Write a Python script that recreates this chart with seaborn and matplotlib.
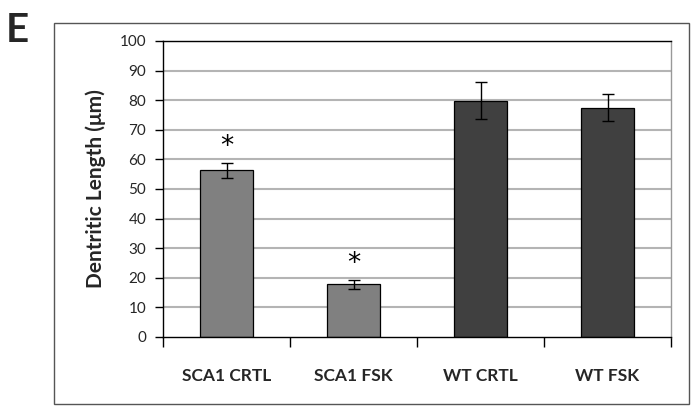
import matplotlib
matplotlib.use("Agg")
import matplotlib.pyplot as plt
import seaborn as sns
import pandas as pd
from matplotlib.patches import Rectangle

categories = ["SCA1 CRTL", "SCA1 FSK", "WT CRTL", "WT FSK"]
values = [56.3, 17.8, 79.8, 77.5]
errors = [2.6, 1.6, 6.2, 4.6]
significant = [True, True, False, False]
bar_colors = ["#808080", "#808080", "#404040", "#404040"]
yticks = list(range(0, 101, 10))

sns.set_theme(style="white")
plt.rcParams["font.family"] = ["Lato", "DejaVu Sans"]

df = pd.DataFrame({"group": categories, "length": values})

fig = plt.figure(figsize=(6.96, 4.09), dpi=100)
ax = fig.add_axes([163/696, 1-337/409, (671-163)/696, (337-41)/409])

# outer frame
fig.patches.append(Rectangle((54/696, 1-404/409), (689-54)/696, (404-23)/409,
                             transform=fig.transFigure, fill=False,
                             edgecolor="#555555", linewidth=1.0, zorder=0))

for y in yticks[1:]:
    ax.axhline(y, color="#b4b4b4", linewidth=1.5, zorder=0)

sns.barplot(data=df, x="group", y="length", hue="group", palette=bar_colors,
            legend=False, errorbar=None, width=0.41, edgecolor="black",
            linewidth=0.9, ax=ax, zorder=2)

ax.errorbar(range(len(categories)), values, yerr=errors, fmt="none",
            ecolor="black", elinewidth=1.0, capsize=4, capthick=1.0, zorder=3)

for i, (v, e, s) in enumerate(zip(values, errors, significant)):
    if s:
        ax.text(i, v + e + 0.8, "*", ha="center", va="bottom", fontsize=19,
                color="black", family="DejaVu Sans")

ax.set_ylim(0, 100)
ax.set_xlim(-0.5, len(categories) - 0.5)
ax.set_yticks(yticks)
ax.set_yticklabels([str(t) for t in yticks], fontsize=11)
ax.set_xticks(range(len(categories)))
ax.set_xticklabels(categories, fontsize=12.5, fontweight="bold")
ax.set_xticks([i - 0.5 for i in range(len(categories) + 1)], minor=True)
ax.tick_params(axis="x", which="major", length=0, pad=22)
ax.tick_params(axis="x", which="minor", length=7, width=1, color="black",
               direction="out", bottom=True)
ax.tick_params(axis="y", length=6, width=1, color="black", direction="out",
               left=True, pad=6)
ax.set_xlabel("")
ax.set_ylabel("Dentritic Length (μm)", fontsize=15, fontweight="bold",
              labelpad=10)

for side in ["left", "bottom", "top"]:
    ax.spines[side].set_color("black")
    ax.spines[side].set_linewidth(1.0)
ax.spines["right"].set_color("#999999")
ax.spines["right"].set_linewidth(1.0)

fig.text(6/696, 1-31/409, "E", fontsize=29, fontweight="bold",
         va="center", ha="left")

fig.savefig("out.png", dpi=100)
